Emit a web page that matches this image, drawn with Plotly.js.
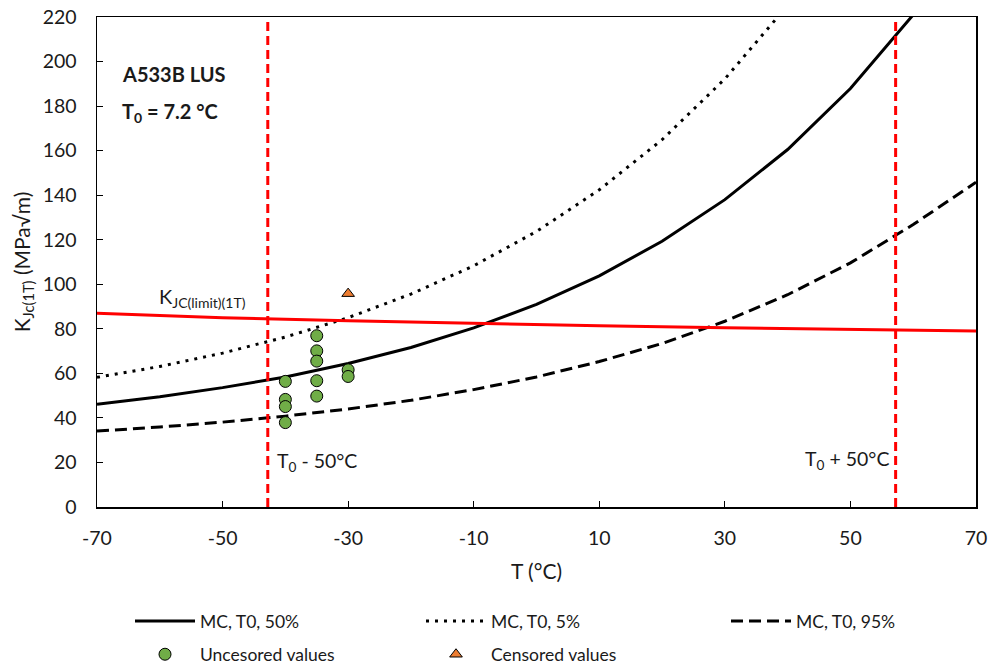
<!DOCTYPE html>
<html>
<head>
<meta charset="utf-8">
<script src="https://cdn.plot.ly/plotly-3.0.1.min.js"></script>
<style>html,body{margin:0;padding:0;background:#fff;}#chart{width:990px;height:665px;}</style>
</head>
<body>
<div id="chart"></div>
<script>
// Temperatures (°C) at which the master curves were read
var temps = [-70, -60, -50, -40, -30, -20, -10, 0, 10, 20, 30, 40, 50, 60, 70];
// MC, T0, 50% (solid)
var mc50 = [46.1, 49.5, 53.6, 58.4, 64.4, 71.6, 80.4, 91.0, 103.8, 119.3, 138.0, 160.5, 187.9, 221.0];
// MC, T0, 5% (dotted, upper curve)
var mc5 = [58.2, 63.1, 69.1, 76.3, 85.0, 95.6, 108.3, 123.7, 142.4, 164.9, 192.2, 225.2];
// MC, T0, 95% (dashed, lower curve)
var mc95 = [34.1, 35.9, 38.1, 40.8, 44.0, 47.9, 52.7, 58.4, 65.3, 73.4, 83.4, 95.3, 109.6, 126.8, 145.8];

// K_JC(limit)(1T) line
var limT = [-70, -50, -30, -10, 10, 30, 50, 70];
var limK = [87.0, 85.0, 83.6, 82.4, 81.4, 80.5, 79.7, 79.0];

// T0 +/- 50 °C lines
var boundT = [-42.8, 57.2];
var yRange = [0, 220];

// Test data
var uncensT = [-40, -40, -40, -40, -35, -35, -35, -35, -35, -30, -30];
var uncensK = [56.4, 48.3, 45.1, 37.9, 76.9, 70.1, 65.5, 56.7, 49.8, 61.6, 58.6];
var censT = [-30];
var censK = [95.8];

var xTicks = [-70, -50, -30, -10, 10, 30, 50, 70];
var yTicks = [0, 20, 40, 60, 80, 100, 120, 140, 160, 180, 200, 220];

var FONT = 'Lato, "Open Sans", sans-serif';
var TXT = '#1a1a1a';

var traces = [
  {x: temps.slice(0, mc50.length), y: mc50, type: 'scatter', mode: 'lines', name: 'MC, T0, 50%',
   line: {color: '#000', width: 3}, legend: 'legend'},
  {x: temps.slice(0, mc5.length), y: mc5, type: 'scatter', mode: 'lines', name: 'MC, T0, 5%',
   line: {color: '#000', width: 3, dash: '3px,6px'}, legend: 'legend'},
  {x: temps.slice(0, mc95.length), y: mc95, type: 'scatter', mode: 'lines', name: 'MC, T0, 95%',
   line: {color: '#000', width: 3, dash: '12px,6px'}, legend: 'legend3'},
  {x: limT, y: limK, type: 'scatter', mode: 'lines', name: 'KJC(limit)(1T)', showlegend: false,
   line: {color: '#ff0000', width: 3}},
  {x: [boundT[0], boundT[0]], y: yRange, type: 'scatter', mode: 'lines', showlegend: false,
   line: {color: '#ff0000', width: 3, dash: '9px,5px'}},
  {x: [boundT[1], boundT[1]], y: yRange, type: 'scatter', mode: 'lines', showlegend: false,
   line: {color: '#ff0000', width: 3, dash: '9px,5px'}},
  {x: uncensT, y: uncensK, type: 'scatter', mode: 'markers', name: 'Uncesored values',
   marker: {symbol: 'circle', size: 12, color: '#70ad47', line: {color: '#000', width: 1}}, legend: 'legend2'},
  {x: censT, y: censK, type: 'scatter', mode: 'markers', name: 'Censored values',
   marker: {symbol: 'triangle-up', size: 11, color: '#ed7d31', line: {color: '#000', width: 1}}, legend: 'legend2'}
];

function legendCfg(textX, y, itemW) {
  var gap = itemW + 10;
  return {
    orientation: 'h', xref: 'container', yref: 'container', x: (textX - gap + 1) / 990, xanchor: 'left',
    y: y, yanchor: 'middle', itemwidth: itemW, entrywidth: 293 - gap - 7, entrywidthmode: 'pixels',
    font: {family: FONT, size: 17.5, color: TXT}, bgcolor: 'rgba(0,0,0,0)'
  };
}

var layout = {
  width: 990, height: 665,
  paper_bgcolor: '#fff', plot_bgcolor: '#fff',
  margin: {l: 97, r: 14, t: 17, b: 158},
  font: {family: FONT, color: TXT, size: 18},
  xaxis: {
    range: [-70, 70], tickvals: xTicks, ticktext: xTicks.map(String),
    ticks: 'inside', ticklen: 6, tickcolor: '#000', tickwidth: 1,
    showline: true, linecolor: '#000', linewidth: 1.5, mirror: true,
    showgrid: false, zeroline: false, ticklabelstandoff: 13,
    tickfont: {family: FONT, size: 19.5, color: TXT},
    title: {text: 'T (°C)', font: {family: FONT, size: 21, color: TXT}, standoff: 16}
  },
  yaxis: {
    range: yRange, tickvals: yTicks,
    ticks: 'inside', ticklen: 6, tickcolor: '#000', tickwidth: 1,
    showline: true, linecolor: '#000', linewidth: 1.5, mirror: true,
    showgrid: false, zeroline: false, ticklabelstandoff: 15,
    tickfont: {family: FONT, size: 19.5, color: TXT},
    title: {text: 'K<sub>Jc(1T)</sub> (MPa√m)', font: {family: FONT, size: 21, color: TXT}, standoff: 6}
  },
  legend: legendCfg(199, 0.066, 60),
  legend3: legendCfg(795, 0.066, 60),
  legend2: legendCfg(199, 0.016, 60),
  annotations: [
    {x: -66.4, y: 194.5, xref: 'x', yref: 'y', xanchor: 'left', yanchor: 'middle', showarrow: false,
     text: '<b>A533B LUS</b>', font: {family: FONT, size: 20, color: TXT}},
    {x: -66.4, y: 177, xref: 'x', yref: 'y', xanchor: 'left', yanchor: 'middle', showarrow: false,
     text: '<b>T<sub>0</sub> = 7.2 °C</b>', font: {family: FONT, size: 20, color: TXT}},
    {x: -60.5, y: 94, xref: 'x', yref: 'y', xanchor: 'left', yanchor: 'middle', showarrow: false,
     text: 'K<sub>JC(limit)(1T)</sub>', font: {family: FONT, size: 20, color: TXT}},
    {x: -41.7, y: 20, xref: 'x', yref: 'y', xanchor: 'left', yanchor: 'middle', showarrow: false,
     text: 'T<sub>0</sub> - 50°C', font: {family: FONT, size: 19.5, color: TXT}},
    {x: 56.5, y: 21, xref: 'x', yref: 'y', xanchor: 'right', yanchor: 'middle', showarrow: false,
     text: 'T<sub>0</sub> + 50°C', font: {family: FONT, size: 19.5, color: TXT}}
  ]
};

Plotly.newPlot('chart', traces, layout, {staticPlot: true, displayModeBar: false});
</script>
</body>
</html>
